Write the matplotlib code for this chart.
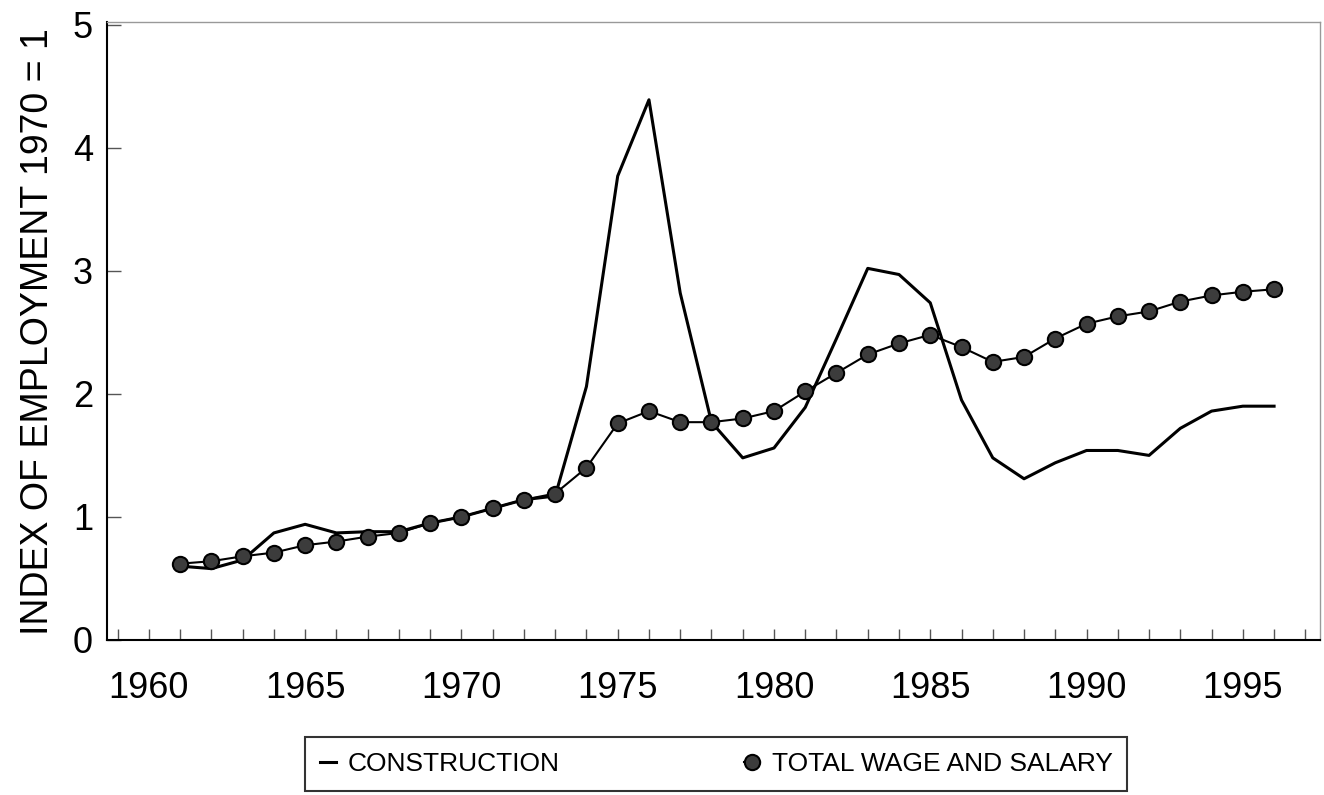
import matplotlib
matplotlib.use("Agg")
import matplotlib.pyplot as plt
from matplotlib.ticker import MultipleLocator

plt.rcParams['font.family'] = ['Liberation Sans', 'DejaVu Sans']

years = list(range(1961, 1997))
construction = [0.60, 0.58, 0.65, 0.87, 0.94, 0.87, 0.88, 0.88, 0.95, 1.00,
                1.07, 1.14, 1.17, 2.06, 3.77, 4.39, 2.82, 1.77, 1.48, 1.56,
                1.89, 2.45, 3.02, 2.97, 2.74, 1.95, 1.48, 1.31, 1.44, 1.54,
                1.54, 1.50, 1.72, 1.86, 1.90, 1.90]
total_wage = [0.62, 0.64, 0.68, 0.71, 0.77, 0.80, 0.84, 0.87, 0.95, 1.00,
              1.07, 1.14, 1.19, 1.40, 1.76, 1.86, 1.77, 1.77, 1.80, 1.86,
              2.02, 2.17, 2.32, 2.41, 2.48, 2.38, 2.26, 2.30, 2.45, 2.57,
              2.63, 2.67, 2.75, 2.80, 2.83, 2.85]
x_ticks = [1960, 1965, 1970, 1975, 1980, 1985, 1990, 1995]
y_ticks = [0, 1, 2, 3, 4, 5]

fig = plt.figure(figsize=(13.24, 7.95), dpi=100)
ax = fig.add_axes([0.0808, 0.195, 0.9162, 0.777])

ax.plot(years, construction, color='black', lw=2.2, label='CONSTRUCTION')
ax.plot(years, total_wage, color='black', lw=1.5, marker='o', markersize=11,
        markerfacecolor='#3c3c3c', markeredgecolor='black', markeredgewidth=1.5,
        label='TOTAL WAGE AND SALARY')

ax.set_xlim(1958.66, 1997.47)
ax.set_ylim(0, 5.02)
ax.set_xticks(x_ticks)
ax.set_yticks(y_ticks)
ax.xaxis.set_minor_locator(MultipleLocator(1))
ax.tick_params(axis='both', which='both', direction='in', labelsize=26, width=1,
               color='#555555')
ax.tick_params(axis='x', which='major', length=8, pad=22)
ax.tick_params(axis='x', which='minor', length=8)
ax.tick_params(axis='y', which='major', length=10, pad=10)
ax.set_ylabel('INDEX OF EMPLOYMENT 1970 = 1', fontsize=27, labelpad=12)

for s in ['left', 'bottom']:
    ax.spines[s].set_linewidth(1.5)
for s in ['top', 'right']:
    ax.spines[s].set_linewidth(1.0)
    ax.spines[s].set_color('#999999')

leg = fig.legend(loc='center', bbox_to_anchor=(0.541, 0.039), ncol=2,
                 fontsize=19, frameon=True, fancybox=False, edgecolor='black',
                 handlelength=0.6, columnspacing=7.0, borderpad=0.55,
                 handletextpad=0.45, borderaxespad=0)
leg.get_frame().set_linewidth(1.5)

fig.savefig('out.png', dpi=100)
